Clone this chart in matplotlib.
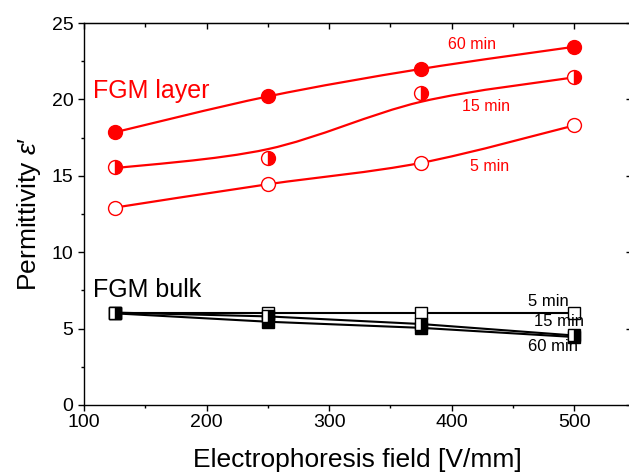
"""Permittivity vs electrophoresis field: FGM layer (red) and FGM bulk (black)."""
import matplotlib
matplotlib.use("Agg")
import matplotlib.pyplot as plt
from matplotlib.path import Path
from matplotlib.patches import PathPatch
from matplotlib.ticker import MultipleLocator

plt.rcParams["font.family"] = ["Liberation Sans", "DejaVu Sans"]
plt.rcParams["mathtext.fontset"] = "custom"
plt.rcParams["mathtext.rm"] = "Liberation Sans"
plt.rcParams["mathtext.it"] = "Liberation Sans:italic"

# ───────────── data ─────────────
field = [125, 250, 375, 500]

layer_60 = [17.85, 20.2, 22.0, 23.45]
layer_15 = [15.55, 16.15, 20.45, 21.45]
layer_15_fit = [15.5, 16.75, 19.85, 21.45]   # fitted curve, not through markers
layer_5 = [12.92, 14.45, 15.85, 18.3]

bulk_5 = [6.05, 6.05, 6.05, 6.05]
bulk_15 = [6.05, 5.8, 5.3, 4.55]
bulk_60 = [6.0, 5.45, 5.05, 4.45]

RED = "#ff0000"


def smooth_path(xs, ys):
    """Catmull-Rom through the points, as cubic Bezier segments."""
    pts = list(zip(xs, ys))
    ext = [pts[0]] + pts + [pts[-1]]
    verts = [pts[0]]
    codes = [Path.MOVETO]
    for i in range(1, len(ext) - 2):
        p0, p1, p2, p3 = ext[i - 1], ext[i], ext[i + 1], ext[i + 2]
        c1 = (p1[0] + (p2[0] - p0[0]) / 6, p1[1] + (p2[1] - p0[1]) / 6)
        c2 = (p2[0] - (p3[0] - p1[0]) / 6, p2[1] - (p3[1] - p1[1]) / 6)
        verts += [c1, c2, p2]
        codes += [Path.CURVE4] * 3
    return Path(verts, codes)


fig = plt.figure(figsize=(6.29, 4.72), dpi=100)
ax = fig.add_axes([0.1335, 0.142, 0.8705, 0.809])

# FGM layer curves
for ys in (layer_60, layer_15_fit, layer_5):
    ax.add_patch(PathPatch(smooth_path(field, ys), fill=False,
                           edgecolor=RED, lw=1.6, zorder=2))

ax.plot(field, layer_60, ls="none", marker="o", ms=10,
        mfc=RED, mec=RED, mew=1.0, zorder=3)
ax.plot(field, layer_15, ls="none", marker="o", ms=10, fillstyle="right",
        mfc=RED, mfcalt="white", mec=RED, mew=1.0, zorder=3)
ax.plot(field, layer_5, ls="none", marker="o", ms=10,
        mfc="white", mec=RED, mew=1.0, zorder=3)

# FGM bulk
ax.plot(field, bulk_60, color="black", lw=1.5, marker="s", ms=8.5,
        mfc="black", mec="black", mew=1.0, zorder=3)
ax.plot(field, bulk_5, color="black", lw=1.5, marker="s", ms=8.5,
        mfc="white", mec="black", mew=1.0, zorder=3)
ax.plot(field, bulk_15, color="black", lw=1.5, marker="s", ms=8.5,
        fillstyle="right", mfc="black", mfcalt="white", mec="black",
        mew=1.0, zorder=4)

# annotations
ax.text(107.5, 20.1, "FGM layer", color=RED, fontsize=18)
ax.text(417, 23.6, "60 min", color=RED, fontsize=11.5, ha="center", va="center")
ax.text(428, 19.55, "15 min", color=RED, fontsize=11.5, ha="center", va="center")
ax.text(431, 15.6, "5 min", color=RED, fontsize=11.5, ha="center", va="center")

ax.text(107.5, 7.1, "FGM bulk", color="black", fontsize=18)
ax.text(479, 6.8, "5 min", fontsize=12, ha="center", va="center")
ax.text(488, 5.45, "15 min", fontsize=12, ha="center", va="center")
ax.text(483, 3.8, "60 min", fontsize=12, ha="center", va="center")

# axes
ax.set_xlim(100, 546.8)
ax.set_ylim(0, 25)
ax.xaxis.set_major_locator(MultipleLocator(100))
ax.xaxis.set_minor_locator(MultipleLocator(50))
ax.yaxis.set_major_locator(MultipleLocator(5))
ax.yaxis.set_minor_locator(MultipleLocator(2.5))
ax.tick_params(which="both", direction="out", labelsize=14, width=1.0)
ax.tick_params(which="major", length=4.5)
ax.tick_params(which="minor", length=2.5)
ax.tick_params(axis="x", pad=2)
ax.tick_params(axis="y", pad=3)
for sp in ax.spines.values():
    sp.set_linewidth(1.0)

# inward ticks on top and right
top = ax.secondary_xaxis("top")
top.xaxis.set_major_locator(MultipleLocator(100))
top.xaxis.set_minor_locator(MultipleLocator(50))
top.tick_params(which="both", direction="in", labeltop=False, width=1.0)
top.tick_params(which="major", length=4)
top.tick_params(which="minor", length=3)
right = ax.secondary_yaxis("right")
right.yaxis.set_major_locator(MultipleLocator(5))
right.yaxis.set_minor_locator(MultipleLocator(2.5))
right.tick_params(which="both", direction="in", labelright=False, width=1.0)
right.tick_params(which="major", length=4.5)
right.tick_params(which="minor", length=2.5)

ax.set_xlabel("Electrophoresis field [V/mm]", fontsize=19, labelpad=12)
ax.set_ylabel("Permittivity $\\varepsilon$\u2032", fontsize=19, labelpad=6)

fig.savefig("out.png", dpi=100)
